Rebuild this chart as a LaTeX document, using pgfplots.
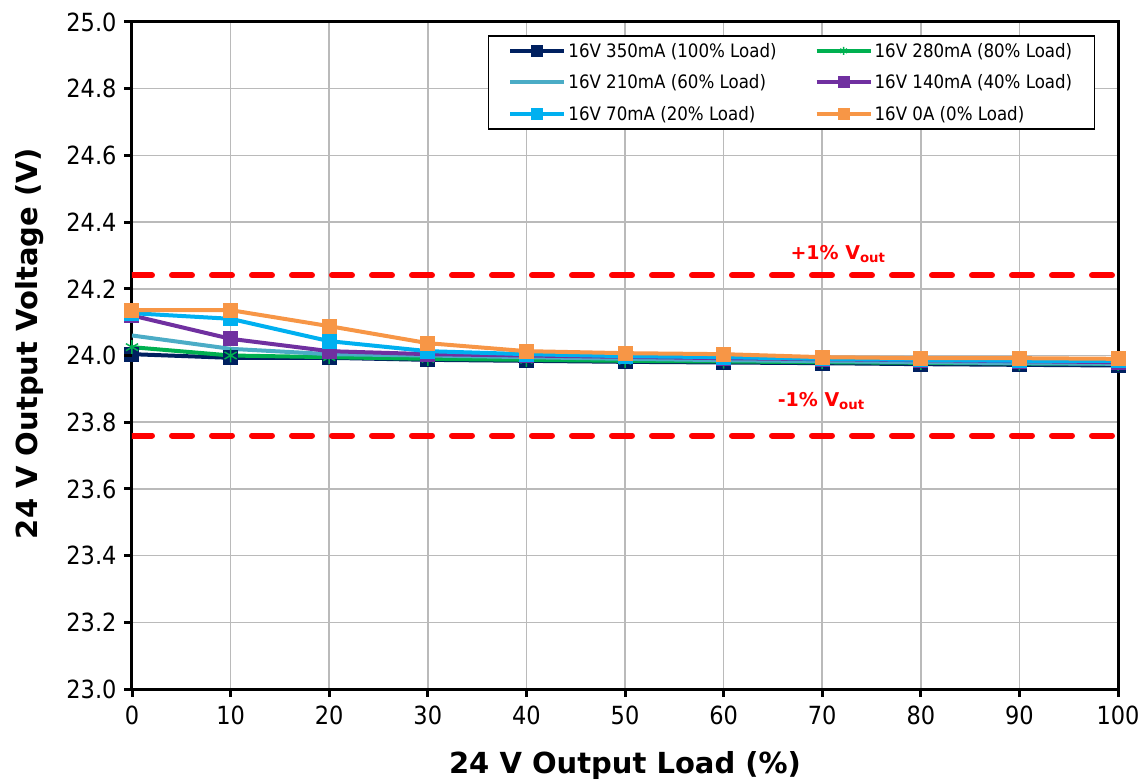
\documentclass[border=0pt]{standalone}
\usepackage{fontspec}
\setmainfont{DejaVu Sans Condensed}
\newfontfamily\labfont{DejaVu Sans}
\newfontfamily\legfont{DejaVu Sans Condensed}
\usepackage{pgfplots}
\pgfplotsset{compat=1.18}
\usetikzlibrary{calc}
\definecolor{cnavy}{RGB}{0,32,96}
\definecolor{cgreen}{RGB}{0,176,80}
\definecolor{cteal}{RGB}{75,172,198}
\definecolor{cpurple}{RGB}{112,48,160}
\definecolor{clblue}{RGB}{0,176,240}
\definecolor{corange}{RGB}{247,150,70}
\definecolor{cred}{RGB}{255,0,0}
\begin{document}
\begin{tikzpicture}
\begin{axis}[
  scale only axis, width=986pt, height=667pt,
  xmin=0, xmax=100, ymin=23, ymax=25,
  xtick={0,10,20,30,40,50,60,70,80,90,100},
  ytick={23,23.2,23.4,23.6,23.8,24,24.2,24.4,24.6,24.8,25},
  yticklabel style={/pgf/number format/fixed, /pgf/number format/fixed zerofill, /pgf/number format/precision=1},
  /pgf/number format/assume math mode=true,
  tick label style={font=\legfont\fontsize{25}{28}\selectfont},
  xticklabel style={yshift=-13pt},
  yticklabel style={xshift=-12pt},
  grid=major, major grid style={color=black!27, line width=1.5pt},
  axis line style={line width=3pt},
  tick style={draw=none},
  xlabel={24 V Output Load (\%)},
  ylabel={24 V Output Voltage (V)},
  label style={font=\labfont\bfseries\fontsize{29}{32}\selectfont},
  xlabel style={at={(axis description cs:0.5,-0.114)}, anchor=center},
  ylabel style={at={(axis description cs:-0.1034,0.518)}, anchor=center},
  legend columns=2,
  legend style={at={(axis cs:97.67,24.96)}, anchor=north east, draw=black, line width=1.5pt,
    font=\legfont\fontsize{18.5}{21}\selectfont, row sep=12pt, inner xsep=20pt, inner ysep=5pt,
    /tikz/every even column/.append style={column sep=36pt}},
  legend cell align=left,
  legend image code/.code={\draw[mark repeat=2,mark phase=2, mark size=4pt] plot coordinates {(0pt,0pt) (27pt,0pt) (54pt,0pt)};},
  every axis plot/.append style={line width=4pt, mark size=5.5pt},
]
\addplot[color=cnavy, mark=square*, mark options={solid}] coordinates {
(0,24.004)(10,23.993)(20,23.993)(30,23.987)(40,23.984)(50,23.981)(60,23.979)(70,23.977)(80,23.974)(90,23.972)(100,23.970)};
\addlegendentry{16V 350mA (100\% Load)}
\addplot[color=cgreen, mark=asterisk, mark options={solid, line width=1.5pt}, mark size=7pt] coordinates {
(0,24.025)(10,24.000)(20,23.995)(30,23.990)(40,23.987)(50,23.984)(60,23.982)(70,23.980)(80,23.978)(90,23.976)(100,23.975)};
\addlegendentry{16V 280mA (80\% Load)}
\addplot[color=cteal, no marks] coordinates {
(0,24.060)(10,24.020)(20,24.004)(30,24.000)(40,23.995)(50,23.990)(60,23.986)(70,23.983)(80,23.980)(90,23.977)(100,23.975)};
\addlegendentry{16V 210mA (60\% Load)}
\addplot[color=cpurple, mark=square*, mark options={solid}] coordinates {
(0,24.120)(10,24.050)(20,24.013)(30,24.004)(40,24.000)(50,23.996)(60,23.992)(70,23.989)(80,23.986)(90,23.983)(100,23.980)};
\addlegendentry{16V 140mA (40\% Load)}
\addplot[color=clblue, mark=square*, mark options={solid}] coordinates {
(0,24.127)(10,24.110)(20,24.043)(30,24.013)(40,24.004)(50,23.998)(60,23.995)(70,23.990)(80,23.987)(90,23.984)(100,23.984)};
\addlegendentry{16V 70mA (20\% Load)}
\addplot[color=corange, mark=square*, mark options={solid}] coordinates {
(0,24.136)(10,24.136)(20,24.088)(30,24.037)(40,24.013)(50,24.007)(60,24.004)(70,23.995)(80,23.992)(90,23.992)(100,23.990)};
\addlegendentry{16V 0A (0\% Load)}
\addplot[color=cred, line width=6pt, line cap=round, dash pattern=on 20pt off 20pt, forget plot] coordinates {(0,24.24)(100,24.24)};
\addplot[color=cred, line width=6pt, line cap=round, dash pattern=on 20pt off 20pt, forget plot] coordinates {(0,23.76)(100,23.76)};
\node[text=cred, font=\labfont\bfseries\fontsize{19}{22}\selectfont] at (axis cs:71.6,24.305) {+1\% V\textsubscript{out}};
\node[text=cred, font=\labfont\bfseries\fontsize{19}{22}\selectfont] at (axis cs:69.9,23.864) {-1\% V\textsubscript{out}};
\end{axis}
\foreach \tk in {0,1,2,3,4,5,6,7,8,9,10}{
  \draw[black, line width=3pt] ($(current axis.south west)!\tk/10!(current axis.south east)$) -- ++(0pt,-8pt);
  \draw[black, line width=3pt] ($(current axis.south west)!\tk/10!(current axis.north west)$) -- ++(-8pt,0pt);
}
\pgfresetboundingbox
\path ($(current axis.south west)+(-132pt,-92pt)$) rectangle ($(current axis.north east)+(24pt,22pt)$);
\end{tikzpicture}
\end{document}
